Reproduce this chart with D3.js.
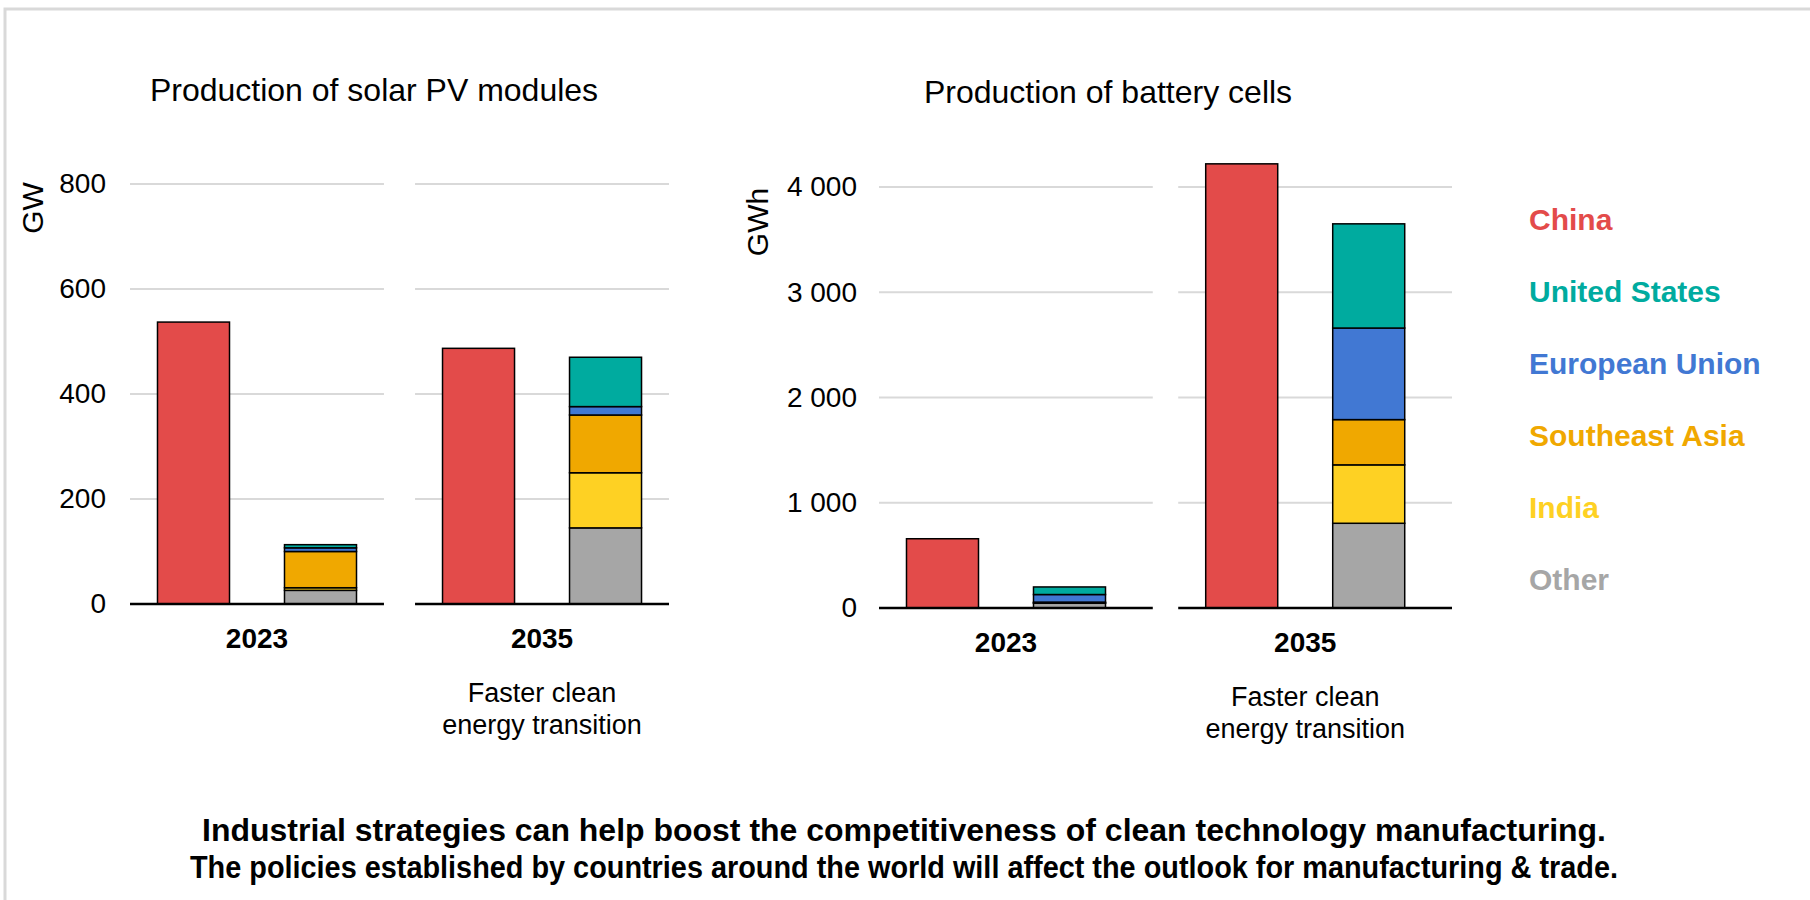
<!DOCTYPE html>
<html>
<head>
<meta charset="utf-8">
<script src="https://cdn.jsdelivr.net/npm/d3@7"></script>
<style>
  body { margin: 0; background: #fff; }
  svg { display: block; font-family: "Liberation Sans", Arial, sans-serif; }
</style>
</head>
<body>
<div id="container"></div>
<script>
const W = 1810;
const H = 900;

// data
const years = ["2023", "2035"];
const yearNotes = ["", "Faster clean|energy transition"];
const regions = ["China", "United States", "European Union", "Southeast Asia", "India", "Other"];
const stackOrder = ["Other", "India", "Southeast Asia", "European Union", "United States"];
const regionColors = ["#e34b4a", "#00ab9f", "#4178d3", "#f0a800", "#fed123", "#a6a6a6"];

const solarChina = [537, 487];
const solarOther = [26, 145];
const solarIndia = [5, 105];
const solarSEA = [69, 110];
const solarEU = [7, 16];
const solarUS = [6, 94];
const solarTicks = [0, 200, 400, 600, 800];

const battChina = [658, 4220];
const battOther = [45, 805];
const battIndia = [3, 555];
const battSEA = [8, 430];
const battEU = [72, 870];
const battUS = [72, 990];
const battTicks = [0, 1000, 2000, 3000, 4000];

const footerLines = [
  "Industrial strategies can help boost the competitiveness of clean technology manufacturing.",
  "The policies established by countries around the world will affect the outlook for manufacturing & trade."
];

const color = d3.scaleOrdinal().domain(regions).range(regionColors);
const fmtSpace = d3.formatLocale({ decimal: ".", thousands: "\u00a0", grouping: [3], currency: ["", ""] }).format(",");

const svg = d3.select("#container")
  .append("svg")
  .attr("width", W)
  .attr("height", H);

// outer frame
svg.append("rect")
  .attr("x", 5).attr("y", 9)
  .attr("width", W + 20).attr("height", H + 20)
  .attr("fill", "none")
  .attr("stroke", "#d9d9d9")
  .attr("stroke-width", 3);

function drawPanel(p) {
  const g = svg.append("g");

  const y = d3.scaleLinear().domain(p.domain).range([p.y0, p.y1]);
  const xGroup = d3.scaleBand().domain(years).range(p.xRange).paddingInner(p.groupPad);
  // bars sit in the first 254px of each group band
  const xBar = d3.scaleBand().domain(["china", "rest"]).range([0, 254])
    .paddingInner(0.433).paddingOuter(0.2165);

  // gridlines per group
  years.forEach(yr => {
    const x0 = xGroup(yr);
    g.append("g")
      .selectAll("line")
      .data(p.ticks.filter(t => t > 0))
      .join("line")
      .attr("x1", x0).attr("x2", x0 + xGroup.bandwidth())
      .attr("y1", d => y(d)).attr("y2", d => y(d))
      .attr("stroke", "#d9d9d9").attr("stroke-width", 2);
  });

  // y axis labels
  const yAxis = d3.axisLeft(y).tickValues(p.ticks).tickSize(0).tickPadding(0).tickFormat(p.format);
  const ax = g.append("g").attr("transform", `translate(${p.tickX},0)`).call(yAxis);
  ax.select(".domain").remove();
  ax.selectAll("text")
    .attr("font-size", 28)
    .attr("fill", "#000")
    .attr("font-family", "Liberation Sans, Arial, sans-serif");

  g.append("text")
    .attr("transform", `translate(${p.unitX},${p.unitY}) rotate(-90)`)
    .attr("text-anchor", "middle")
    .attr("dy", "0.35em")
    .attr("font-size", 30)
    .text(p.unit);

  // china bars
  g.append("g")
    .selectAll("rect")
    .data(years)
    .join("rect")
    .attr("x", d => xGroup(d) + xBar("china"))
    .attr("y", (d, i) => y(p.china[i]))
    .attr("width", xBar.bandwidth())
    .attr("height", (d, i) => y(0) - y(p.china[i]))
    .attr("fill", color("China"))
    .attr("stroke", "#000")
    .attr("stroke-width", 1.5);

  // stacked rest-of-world bars
  const rows = years.map((yr, i) => {
    const row = { year: yr };
    stackOrder.forEach(k => { row[k] = p.series[k][i]; });
    return row;
  });
  const stacked = d3.stack().keys(stackOrder)(rows);

  g.append("g")
    .selectAll("g")
    .data(stacked)
    .join("g")
    .attr("fill", d => color(d.key))
    .selectAll("rect")
    .data(d => d)
    .join("rect")
    .attr("x", d => xGroup(d.data.year) + xBar("rest"))
    .attr("y", d => y(d[1]))
    .attr("width", xBar.bandwidth())
    .attr("height", d => y(d[0]) - y(d[1]))
    .attr("stroke", "#000")
    .attr("stroke-width", 1.5);

  // baselines
  years.forEach(yr => {
    g.append("line")
      .attr("x1", xGroup(yr)).attr("x2", xGroup(yr) + xGroup.bandwidth())
      .attr("y1", y(0)).attr("y2", y(0))
      .attr("stroke", "#000").attr("stroke-width", 2.5);
  });

  // category labels, centred on the bar pair
  years.forEach((yr, i) => {
    const cx = xGroup(yr) + 127;
    g.append("text")
      .attr("x", cx).attr("y", y(0) + 44)
      .attr("text-anchor", "middle")
      .attr("font-size", 28)
      .attr("font-weight", "bold")
      .text(yr);
    if (yearNotes[i]) {
      yearNotes[i].split("|").forEach((line, j) => {
        g.append("text")
          .attr("x", cx).attr("y", y(0) + 98 + j * 32)
          .attr("text-anchor", "middle")
          .attr("font-size", 27)
          .text(line);
      });
    }
  });

  g.append("text")
    .attr("x", p.titleX).attr("y", p.titleY)
    .attr("text-anchor", "middle")
    .attr("font-size", 32)
    .text(p.title);
}

drawPanel({
  title: "Production of solar PV modules",
  titleX: 374, titleY: 101,
  unit: "GW", unitX: 32, unitY: 208,
  domain: [0, 800], y0: 604, y1: 184,
  ticks: solarTicks, format: d3.format("d"), tickX: 106,
  xRange: [130, 669], groupPad: 0.109,
  china: solarChina,
  series: { "Other": solarOther, "India": solarIndia, "Southeast Asia": solarSEA, "European Union": solarEU, "United States": solarUS }
});

drawPanel({
  title: "Production of battery cells",
  titleX: 1108, titleY: 103,
  unit: "GWh", unitX: 757, unitY: 222,
  domain: [0, 4000], y0: 608, y1: 187,
  ticks: battTicks, format: fmtSpace, tickX: 857,
  xRange: [879, 1452], groupPad: 0.085,
  china: battChina,
  series: { "Other": battOther, "India": battIndia, "Southeast Asia": battSEA, "European Union": battEU, "United States": battUS }
});

// legend
const legendY = d3.scalePoint().domain(regions).range([219, 579]);
svg.append("g")
  .selectAll("text")
  .data(regions)
  .join("text")
  .attr("x", 1529)
  .attr("y", d => legendY(d))
  .attr("dy", "0.35em")
  .attr("font-size", 30)
  .attr("font-weight", "bold")
  .attr("fill", d => color(d))
  .text(d => d);

// footer
const footerWidths = [1404, 1428];
svg.append("g")
  .selectAll("text")
  .data(footerLines)
  .join("text")
  .attr("x", 904)
  .attr("y", (d, i) => 841 + i * 37)
  .attr("text-anchor", "middle")
  .attr("font-size", 31)
  .attr("font-weight", "bold")
  .attr("textLength", (d, i) => footerWidths[i])
  .attr("lengthAdjust", "spacingAndGlyphs")
  .text(d => d);
</script>
</body>
</html>
